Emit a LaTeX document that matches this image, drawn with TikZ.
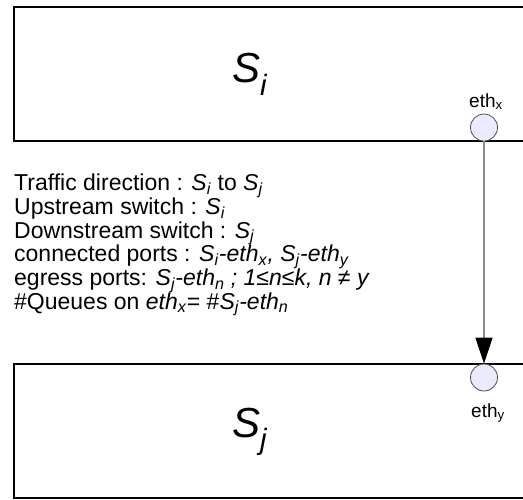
\documentclass[tikz,border=0pt]{standalone}
\usepackage{fontspec}
\setmainfont{Liberation Sans}
\usetikzlibrary{arrows.meta}
\newcommand{\itsub}[2]{\textit{#1}\textsubscript{\textit{#2}}}
\tikzset{
  switchbox/.style={draw=black, line width=2pt},
  port/.style={circle, draw=black!70, fill=blue!8!white, line width=0.8pt, minimum size=27pt, inner sep=0pt},
  portlabel/.style={font=\fontsize{19}{22}\selectfont, inner sep=0pt, anchor=base west},
  biglabel/.style={font=\fontsize{42}{48}\selectfont, inner sep=0pt},
  descline/.style={font=\fontsize{23}{24}\selectfont, inner sep=0pt, anchor=base west},
  link/.style={draw=black!45, line width=1.3pt, -{Triangle[length=26pt,width=17pt,fill=black,color=black]}}
}
\begin{document}
\begin{tikzpicture}[x=1pt,y=-1pt]
\useasboundingbox (0,0) rectangle (523,499);
\clip (0,0) rectangle (523,499);
\fill[white] (0,0) rectangle (523,499);
% boxes
\draw[switchbox] (14,7) rectangle (540,141);
\draw[switchbox] (14,364) rectangle (540,498);
\node[biglabel] (si) at (250,74) {\itsub{S}{i}};
\node[biglabel] (sj) at (250,432) {\itsub{S}{j}};
% ports
\node[port] (ex) at (484,127.5) {};
\node[port] (ey) at (484,377.5) {};
\node[portlabel] (lx) at (469,107) {eth\textsubscript{x}};
\node[portlabel] (ly) at (471,417) {eth\textsubscript{y}};
\draw[link] (ex.south) -- (ey.north);
% description
\node[descline] (d1) at (14,190.7) {Traffic direction : \itsub{S}{i} to \itsub{S}{j}};
\node[descline] (d2) at (14,214.4) {Upstream switch : \itsub{S}{i}};
\node[descline] (d3) at (14,238.1) {Downstream switch : \itsub{S}{j}};
\node[descline] (d4) at (14,261.8) {connected ports : \itsub{S}{i}\textit{-eth}\textsubscript{\textit{x}}\textit{, }\itsub{S}{j}\textit{-eth}\textsubscript{\textit{y}}};
\node[descline] (d5) at (14,285.5) {egress ports: \itsub{S}{j}\textit{-eth}\textsubscript{\textit{n}}\textit{ ; 1≤n≤k, n ≠ y}};
\node[descline] (d6) at (14,309.2) {\#Queues on \textit{eth}\textsubscript{\textit{x}}= \#\itsub{S}{j}\textit{-eth}\textsubscript{\textit{n}}};
\end{tikzpicture}
\end{document}
